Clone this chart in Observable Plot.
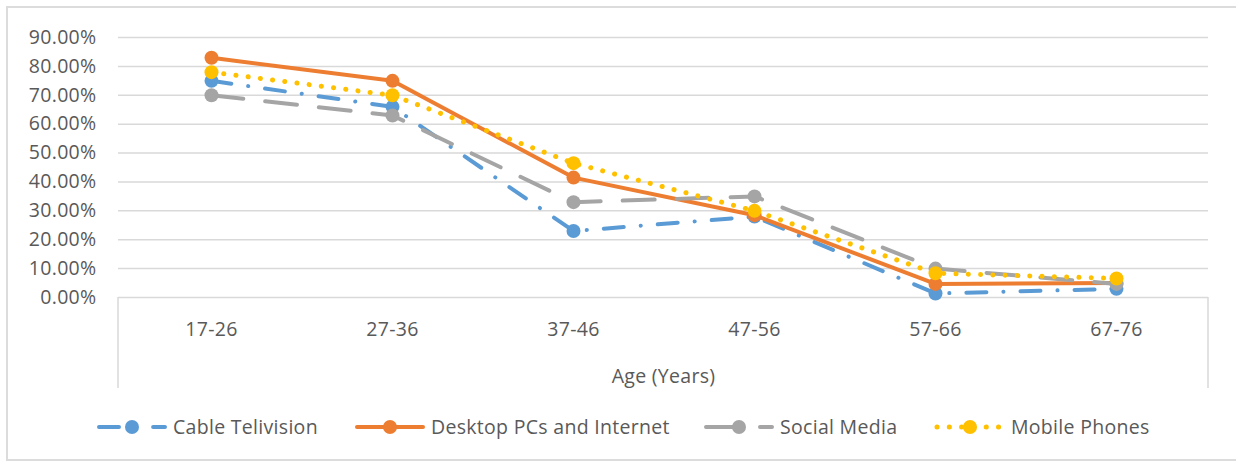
<!DOCTYPE html>
<html>
<head>
<meta charset="utf-8">
<script src="https://cdn.jsdelivr.net/npm/d3@7"></script>
<script src="https://cdn.jsdelivr.net/npm/@observablehq/plot@0.6"></script>
<style>
  html, body { margin: 0; padding: 0; background: #fff; }
  #wrap { position: relative; width: 1236px; height: 464px; overflow: hidden; font-family: "Open Sans", sans-serif; color: #595959; }
  #border { position: absolute; left: 6px; top: 6px; width: 1260px; height: 455px; border: 2px solid #DCDCDC; box-sizing: border-box; }
  #chart { position: absolute; left: 0; top: 0; }
  #chart svg text { letter-spacing: 0.3px; }
  .leg { position: absolute; top: 413px; display: flex; align-items: center; font-size: 19.5px; letter-spacing: 0.3px; white-space: nowrap; }
  .leg svg { display: block; }
  .leg span { margin-left: 5px; }
</style>
</head>
<body>
<div id="wrap">
  <div id="border"></div>
  <div id="chart"></div>
  <div id="legend"></div>
</div>
<script>
const ages = ["17-26", "27-36", "37-46", "47-56", "57-66", "67-76"];
const seriesNames = ["Cable Telivision", "Desktop PCs and Internet", "Social Media", "Mobile Phones"];
const cable   = [0.75, 0.66, 0.23, 0.28, 0.014, 0.03];
const desktop = [0.83, 0.75, 0.415, 0.285, 0.047, 0.05];
const social  = [0.70, 0.63, 0.33, 0.35, 0.10, 0.047];
const mobile  = [0.78, 0.70, 0.465, 0.30, 0.084, 0.066];
const yTicks = [0, 0.1, 0.2, 0.3, 0.4, 0.5, 0.6, 0.7, 0.8, 0.9];
const xTitle = "Age (Years)";

const colors = ["#5B9BD5", "#ED7D31", "#A5A5A5", "#FFC000"];
const dashes = ["20,17,0.1,17", null, "32,22", "0.1,12.2"];
const widths = [4, 4, 4, 5];
const valuesList = [cable, desktop, social, mobile];

const tables = valuesList.map((vals, s) => ages.map((a, i) => ({age: a, v: vals[i], series: seriesNames[s]})));

const boxMark = (index, scales, values, dim) => {
  const g = d3.create("svg:g");
  const y0 = dim.height - dim.marginBottom;
  [dim.marginLeft, dim.width - dim.marginRight].forEach(x => {
    g.append("line").attr("x1", x).attr("x2", x).attr("y1", y0).attr("y2", y0 + 91)
      .attr("stroke", "#D9D9D9").attr("stroke-width", 1.5);
  });
  return g.node();
};

const marks = [
  Plot.ruleY(yTicks, {stroke: "#D9D9D9", strokeWidth: 1.5}),
  boxMark
];
tables.forEach((t, s) => {
  marks.push(Plot.line(t, {x: "age", y: "v", stroke: colors[s], strokeWidth: widths[s],
    strokeDasharray: dashes[s] || undefined, strokeLinecap: "round", strokeLinejoin: "round"}));
  marks.push(Plot.dot(t, {x: "age", y: "v", r: 7, fill: colors[s], stroke: "none"}));
});
marks.push(Plot.text([xTitle], {frameAnchor: "bottom", lineAnchor: "middle", dy: 79, text: d => d, fontSize: 19.5, fill: "#595959"}));

const plot = Plot.plot({
  width: 1236,
  height: 400,
  marginLeft: 118,
  marginRight: 28,
  marginTop: 37,
  marginBottom: 103,
  style: {fontFamily: "'Open Sans', sans-serif", fontSize: "19.5px", color: "#595959", background: "transparent"},
  x: {type: "point", domain: ages, padding: 0.5, tickSize: 0, tickPadding: 25, label: null},
  y: {domain: [0, 0.9], ticks: yTicks, tickFormat: d3.format(".2%"), tickSize: 0, tickPadding: 22, label: null},
  marks
});
document.getElementById("chart").appendChild(plot);

// legend
const legLeft = [96, 354, 703, 934];
const legend = document.getElementById("legend");
seriesNames.forEach((name, s) => {
  const item = document.createElement("div");
  item.className = "leg";
  item.style.left = legLeft[s] + "px";
  const svg = d3.create("svg").attr("width", 72).attr("height", 22);
  svg.append("line").attr("x1", 3).attr("x2", 69).attr("y1", 11).attr("y2", 11)
    .attr("stroke", colors[s]).attr("stroke-width", widths[s]).attr("stroke-linecap", "round")
    .attr("stroke-dasharray", dashes[s] || null);
  svg.append("circle").attr("cx", 36).attr("cy", 11).attr("r", 7).attr("fill", colors[s]);
  item.appendChild(svg.node());
  const sp = document.createElement("span");
  sp.textContent = name;
  item.appendChild(sp);
  legend.appendChild(item);
});
</script>
</body>
</html>
